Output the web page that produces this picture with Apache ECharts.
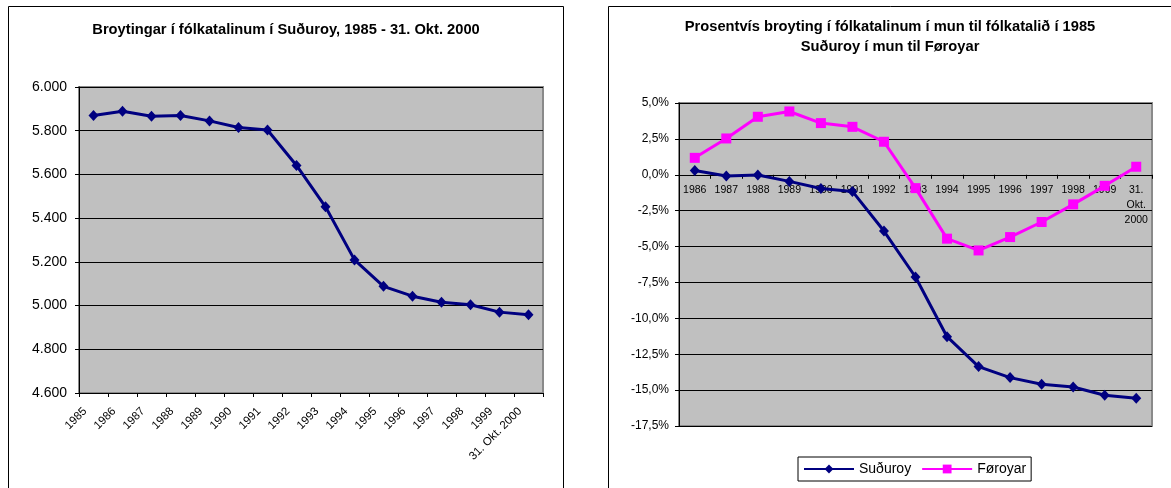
<!DOCTYPE html>
<html>
<head>
<meta charset="utf-8">
<script src="https://cdn.jsdelivr.net/npm/echarts@6/dist/echarts.min.js"></script>
<style>
html,body{margin:0;padding:0;background:#fff;}
#c{width:1171px;height:488px;}
</style>
</head>
<body>
<div id="c"></div>
<script>
// ---- data ----
const leftTitle = 'Broytingar í fólkatalinum í Suðuroy, 1985 - 31. Okt. 2000';
const rightTitle1 = 'Prosentvís broyting í fólkatalinum í mun til fólkatalið í 1985';
const rightTitle2 = 'Suðuroy í mun til Føroyar';
const leftCategories = ['1985','1986','1987','1988','1989','1990','1991','1992','1993','1994','1995','1996','1997','1998','1999','31. Okt. 2000'];
const leftPopulation = [5870, 5889, 5866, 5870, 5845, 5815, 5803, 5641, 5452, 5209, 5088, 5043, 5015, 5004, 4970, 4958];
const rightCategories = ['1986','1987','1988','1989','1990','1991','1992','1993','1994','1995','1996','1997','1998','1999','31. Okt. 2000'];
const seriesNames = ['Suðuroy', 'Føroyar'];
const suduroyPct = [0.30, -0.09, -0.02, -0.46, -0.95, -1.16, -3.92, -7.12, -11.28, -13.36, -14.13, -14.59, -14.78, -15.36, -15.57];
const foroyarPct = [1.18, 2.53, 4.04, 4.41, 3.60, 3.34, 2.30, -0.93, -4.45, -5.27, -4.34, -3.29, -2.06, -0.77, 0.56];
const leftYMin = 4600, leftYMax = 6000, leftYStep = 200;
const rightYMin = -17.5, rightYMax = 5, rightYStep = 2.5;

// ---- chart ----
const FONT = '"Liberation Sans", Arial, sans-serif';
const NAVY = '#000080';
const MAGENTA = '#FF00FF';
const chart = echarts.init(document.getElementById('c'), null, {renderer: 'canvas'});

function thousands(v) {
  const s = String(Math.round(v));
  return s.replace(/\B(?=(\d{3})+(?!\d))/g, '.');
}
function pct(v) {
  return v.toFixed(1).replace('.', ',') + '%';
}

const rightGrid = {left: 679, top: 103, width: 473, height: 323};
// category axis sits on the 0 line: move the top axis down to where 0 falls on the value scale
const zeroOffset = -rightGrid.height * (rightYMax - 0) / (rightYMax - rightYMin);

chart.setOption({
  animation: false,
  backgroundColor: '#fff',
  textStyle: {fontFamily: FONT, color: '#000'},
  graphic: [
    {type: 'rect', z: 0, silent: true, shape: {x: 8.5, y: 6.5, width: 555, height: 520}, style: {fill: 'none', stroke: '#000', lineWidth: 1}},
    {type: 'rect', z: 0, silent: true, shape: {x: 608.5, y: 6.5, width: 570, height: 520}, style: {fill: 'none', stroke: '#000', lineWidth: 1}},
    {type: 'text', z: 10, x: 286, y: 30, style: {text: leftTitle, fontFamily: FONT, fontSize: 14.7, fontWeight: 'bold', fill: '#000', align: 'center', verticalAlign: 'middle'}},
    {type: 'text', z: 10, x: 890, y: 27, style: {text: rightTitle1, fontFamily: FONT, fontSize: 14.7, fontWeight: 'bold', fill: '#000', align: 'center', verticalAlign: 'middle'}},
    {type: 'text', z: 10, x: 890, y: 47, style: {text: rightTitle2, fontFamily: FONT, fontSize: 14.7, fontWeight: 'bold', fill: '#000', align: 'center', verticalAlign: 'middle'}}
  ],
  legend: {
    data: seriesNames,
    left: 798, top: 457,
    padding: 5,
    itemGap: 10,
    itemWidth: 50,
    itemHeight: 11,
    borderColor: '#000',
    borderWidth: 1,
    textStyle: {fontFamily: FONT, fontSize: 14, color: '#000'}
  },
  grid: [
    {left: 79, top: 87, width: 464, height: 306, show: true, backgroundColor: '#C0C0C0', borderColor: '#8A8A8A', borderWidth: 2},
    Object.assign({show: true, backgroundColor: '#C0C0C0', borderColor: '#8A8A8A', borderWidth: 2}, rightGrid)
  ],
  xAxis: [
    {
      gridIndex: 0, type: 'category', data: leftCategories, boundaryGap: true,
      axisLine: {show: true, lineStyle: {color: '#000', width: 1}},
      axisTick: {show: true, length: 4, lineStyle: {color: '#000'}},
      axisLabel: {rotate: 45, fontSize: 11.5, color: '#000', fontFamily: FONT, margin: 8, interval: 0, padding: [0, 12, 0, 0]},
      splitLine: {show: false}
    },
    {
      gridIndex: 1, type: 'category', data: rightCategories, boundaryGap: true,
      position: 'top', offset: zeroOffset,
      axisLine: {show: true, onZero: false, lineStyle: {color: '#000', width: 1}},
      axisTick: {show: true, inside: true, length: 4, lineStyle: {color: '#000'}},
      axisLabel: {inside: true, fontSize: 10.5, lineHeight: 15, color: '#000', fontFamily: FONT, margin: 8, interval: 0,
        formatter: function (v) { return v.replace(/ /g, '\n'); }},
      splitLine: {show: false}
    }
  ],
  yAxis: [
    {
      gridIndex: 0, type: 'value', min: leftYMin, max: leftYMax, interval: leftYStep,
      axisLine: {show: true, lineStyle: {color: '#000', width: 1}},
      axisTick: {show: true, length: 4, lineStyle: {color: '#000'}},
      axisLabel: {fontSize: 14, color: '#000', fontFamily: FONT, margin: 12, formatter: thousands},
      splitLine: {show: true, lineStyle: {color: '#000', width: 1}}
    },
    {
      gridIndex: 1, type: 'value', min: rightYMin, max: rightYMax, interval: rightYStep,
      axisLine: {show: true, lineStyle: {color: '#000', width: 1}},
      axisTick: {show: true, length: 4, lineStyle: {color: '#000'}},
      axisLabel: {fontSize: 12, color: '#000', fontFamily: FONT, margin: 10, formatter: pct},
      splitLine: {show: true, lineStyle: {color: '#000', width: 1}}
    }
  ],
  series: [
    {
      name: 'Fólkatal', type: 'line', xAxisIndex: 0, yAxisIndex: 0, data: leftPopulation,
      symbol: 'diamond', symbolSize: [10, 11], showAllSymbol: true, z: 5,
      lineStyle: {color: NAVY, width: 3}, itemStyle: {color: NAVY}
    },
    {
      name: seriesNames[0], type: 'line', xAxisIndex: 1, yAxisIndex: 1, data: suduroyPct,
      symbol: 'diamond', symbolSize: [10, 11], showAllSymbol: true, z: 5,
      lineStyle: {color: NAVY, width: 3}, itemStyle: {color: NAVY}
    },
    {
      name: seriesNames[1], type: 'line', xAxisIndex: 1, yAxisIndex: 1, data: foroyarPct,
      symbol: 'rect', symbolSize: [10, 10], showAllSymbol: true, z: 5,
      lineStyle: {color: MAGENTA, width: 3}, itemStyle: {color: MAGENTA}
    }
  ]
});
</script>
</body>
</html>
